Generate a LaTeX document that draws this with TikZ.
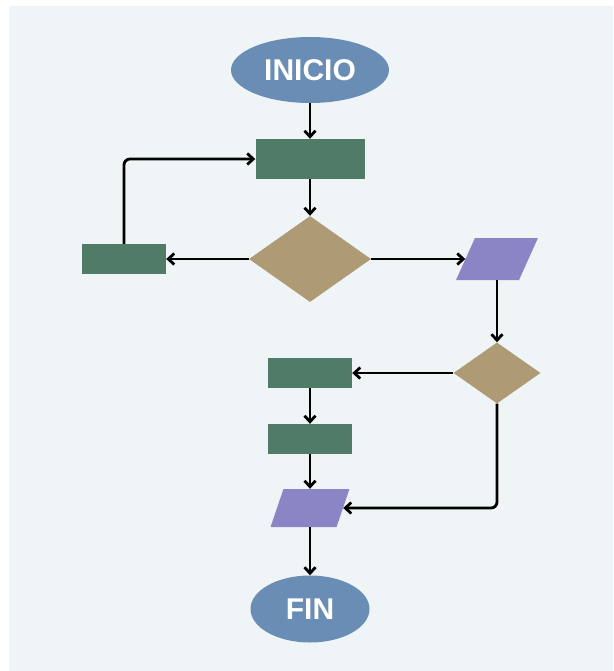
\documentclass[tikz,border=0pt]{standalone}
\usepackage{fontspec}
\setmainfont{Liberation Sans}
\usetikzlibrary{shapes,arrows.meta,positioning}
\definecolor{panelbg}{HTML}{EFF5F7}
\definecolor{termblue}{HTML}{6A8DB6}
\definecolor{procgreen}{HTML}{4F7B67}
\definecolor{decidetan}{HTML}{AE9A75}
\definecolor{iopurple}{HTML}{8A86C5}

\begin{document}
\begin{tikzpicture}[x=1pt,y=-1pt,
        term/.style={ellipse, fill=termblue, text=white, inner sep=0pt,
            font=\bfseries\fontsize{30}{32}\selectfont},
        proc/.style={rectangle, fill=procgreen, inner sep=0pt},
        decide/.style={diamond, fill=decidetan, inner sep=0pt},
        io/.style={rectangle, fill=iopurple, inner sep=0pt},
        flow/.style={line width=2.8pt, -{Straight Barb[length=6pt,width=11pt]}}]
        % Background
        \useasboundingbox (0,0) rectangle (613,671);
        \fill[white] (0,0) rectangle (613,671);
        \fill[panelbg] (9,6) rectangle (613,671);

        % Start and first step
        \node[term, minimum width=158pt, minimum height=66pt] (inicio) at (310,70) {INICIO};
        \node[proc, minimum width=109pt, minimum height=40pt] (paso) at (310,159) {};
        \node[decide, minimum width=122pt, minimum height=86pt] (cond) at (310,259) {};

        % Loop back on the left
        \node[proc, minimum width=84pt, minimum height=30pt] (repetir) at (124,259) {};

        % Right branch
        \node[io, xslant=0.45, minimum width=63pt, minimum height=42pt] (entrada) at (497,259) {};
        \node[decide, minimum width=87pt, minimum height=61pt] (cond2) at (497,373) {};

        % Middle column
        \node[proc, minimum width=84pt, minimum height=30pt] (calc) at (310,373) {};
        \node[proc, minimum width=84pt, minimum height=30pt] (calc2) at (310,439) {};
        \node[io, xslant=0.34, minimum width=66pt, minimum height=38pt] (salida) at (310,508) {};
        \node[term, minimum width=119pt, minimum height=67pt] (fin) at (310,609) {FIN};

        % Connectors
        \draw[flow] (inicio) -- (paso);
        \draw[flow] (paso) -- (cond);
        \draw[flow] (cond.west) -- (repetir.east);
        \draw[flow, rounded corners=6pt] (repetir.north) |- (paso.west);
        \draw[flow] (cond.east) -- (entrada.west);
        \draw[flow] (entrada.center |- entrada.south) -- (cond2.north);
        \draw[flow] (cond2.west) -- (calc.east);
        \draw[flow] (calc) -- (calc2);
        \draw[flow] (calc2) -- (salida.center |- salida.north);
        \draw[flow, rounded corners=6pt] (cond2.south) |- (salida.east);
        \draw[flow] (salida.center |- salida.south) -- (fin.north);
    \end{tikzpicture}
\end{document}
